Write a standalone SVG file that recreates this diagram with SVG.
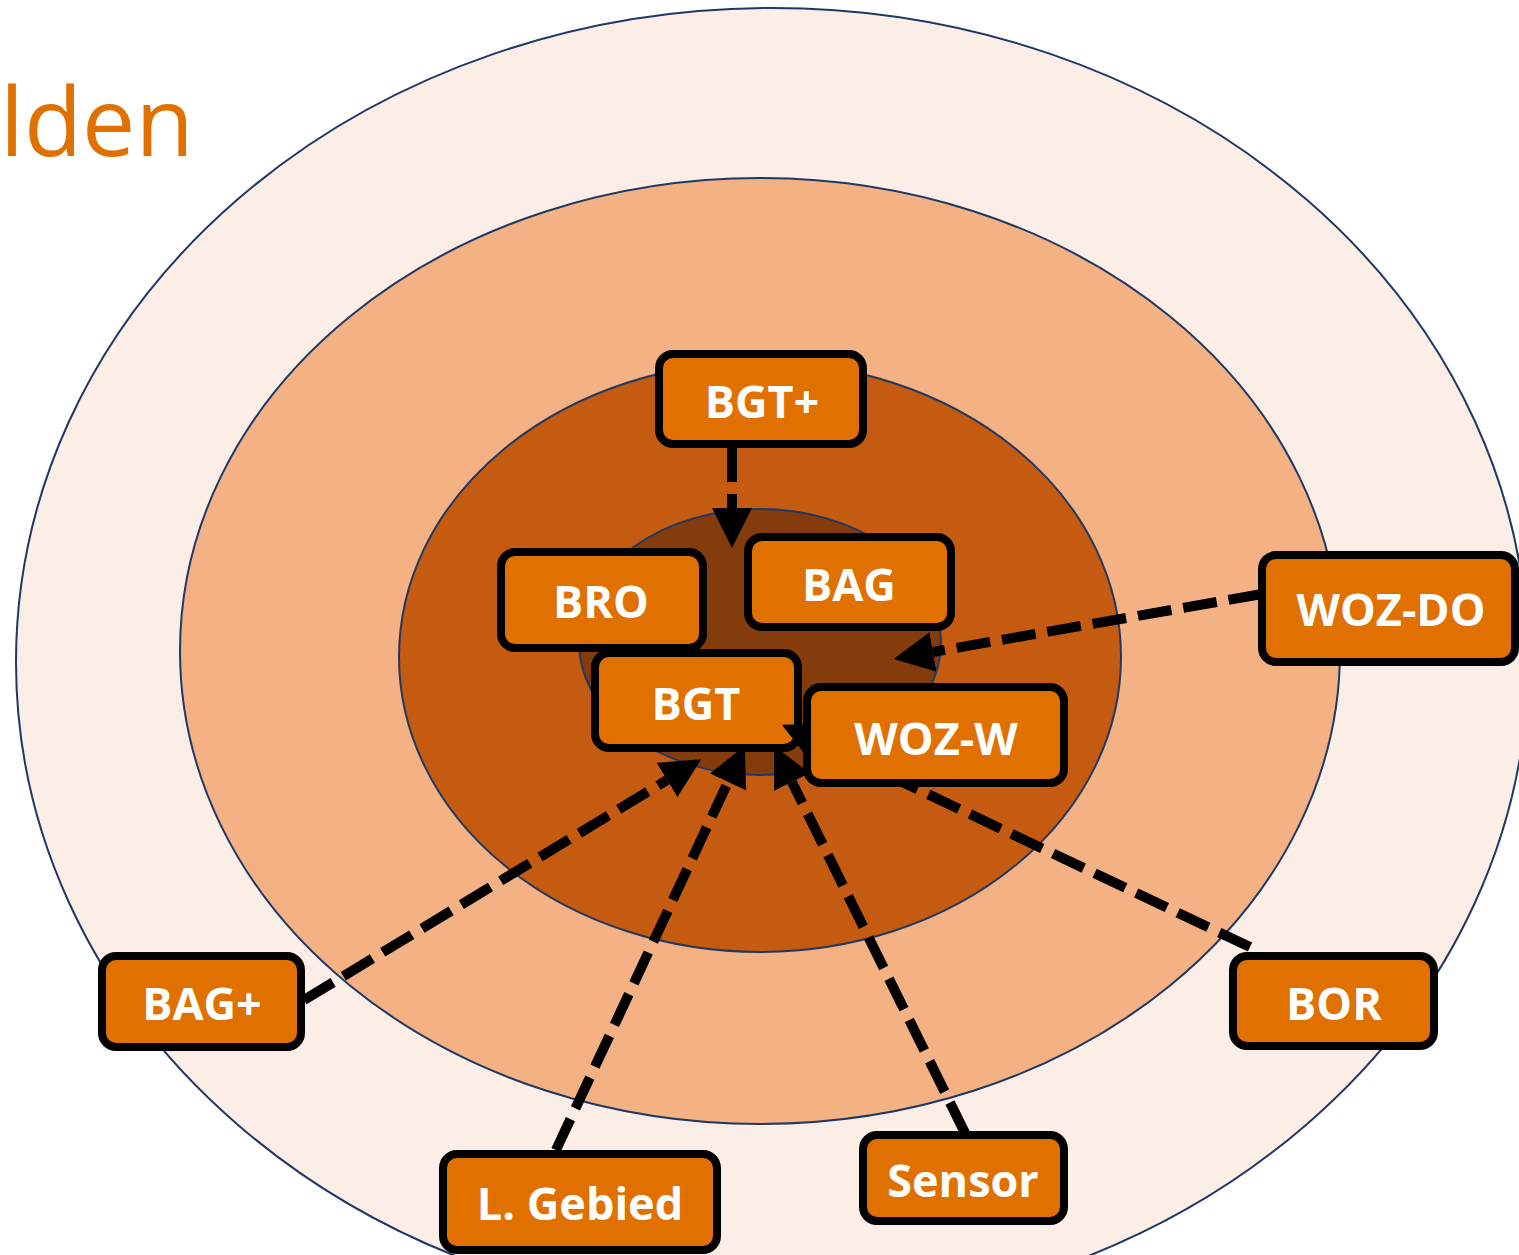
<svg xmlns="http://www.w3.org/2000/svg" width="1519" height="1255" viewBox="0 0 1519 1255">
<defs>
<style>
.ring{stroke:#1F3864;stroke-width:2}
.node rect{fill:#E07000;stroke:#000;stroke-width:8}
.node text{fill:#fff;font-family:"Open Sans","Liberation Sans",sans-serif;font-weight:700;font-size:45px;text-anchor:middle}
.conn{fill:none;stroke:#000;stroke-width:10;stroke-dasharray:34 12;marker-end:url(#ah)}
</style>
<marker id="ah" markerUnits="userSpaceOnUse" markerWidth="40" markerHeight="40" refX="0" refY="17" orient="auto" viewBox="0 0 34 34">
<path d="M0,0 L34,17 L0,34 Z" fill="#000"/>
</marker>
</defs>
<rect width="1519" height="1255" fill="#fff"/>
<ellipse class="ring" cx="772" cy="662" rx="756" ry="654" fill="#FBEEE6"/>
<ellipse class="ring" cx="760" cy="651" rx="580" ry="473" fill="#F4B183"/>
<ellipse class="ring" cx="760" cy="657" rx="361" ry="295" fill="#C55A11"/>
<ellipse class="ring" cx="760" cy="642" rx="181" ry="133" fill="#843C0C"/>
<text x="0" y="156" font-family="'Open Sans','Liberation Sans',sans-serif" font-size="95" fill="#E07000">lden</text>
<g id="n-bgtplus" class="node"><rect x="659" y="354" width="204" height="90" rx="14"/><text x="762" y="418">BGT+</text></g>
<g id="n-bro" class="node"><rect x="501" y="552" width="202" height="96" rx="14"/><text x="601" y="618">BRO</text></g>
<g id="n-bag" class="node"><rect x="748" y="537" width="203" height="90" rx="14"/><text x="849" y="601">BAG</text></g>
<g id="n-bgt" class="node"><rect x="595" y="653" width="203" height="95" rx="14"/><text x="696" y="720">BGT</text></g>
<g id="connectors">
<path class="conn" d="M732,448 L732,508"/>
<path class="conn" d="M1262,594 L933,652"/>
<path class="conn" d="M304,1000 L667,780"/>
<path class="conn" d="M556,1150 L728,782"/>
<path class="conn" d="M965,1133 L792,782"/>
<path class="conn" d="M1250,947 L818,742"/>
</g>
<g id="n-wozw" class="node"><rect x="807" y="687" width="257" height="96" rx="14"/><text x="936" y="755">WOZ-W</text></g>
<g id="n-wozdo" class="node"><rect x="1262" y="555" width="253" height="107" rx="14"/><text x="1391" y="626">WOZ-DO</text></g>
<g id="n-bagplus" class="node"><rect x="102" y="956" width="199" height="91" rx="14"/><text x="202" y="1020">BAG+</text></g>
<g id="n-bor" class="node"><rect x="1233" y="956" width="201" height="90" rx="14"/><text x="1334" y="1020">BOR</text></g>
<g id="n-lgebied" class="node"><rect x="443" y="1154" width="274" height="96" rx="14"/><text x="580" y="1220">L. Gebied</text></g>
<g id="n-sensor" class="node"><rect x="863" y="1135" width="201" height="86" rx="14"/><text x="963" y="1197">Sensor</text></g>
</svg>
